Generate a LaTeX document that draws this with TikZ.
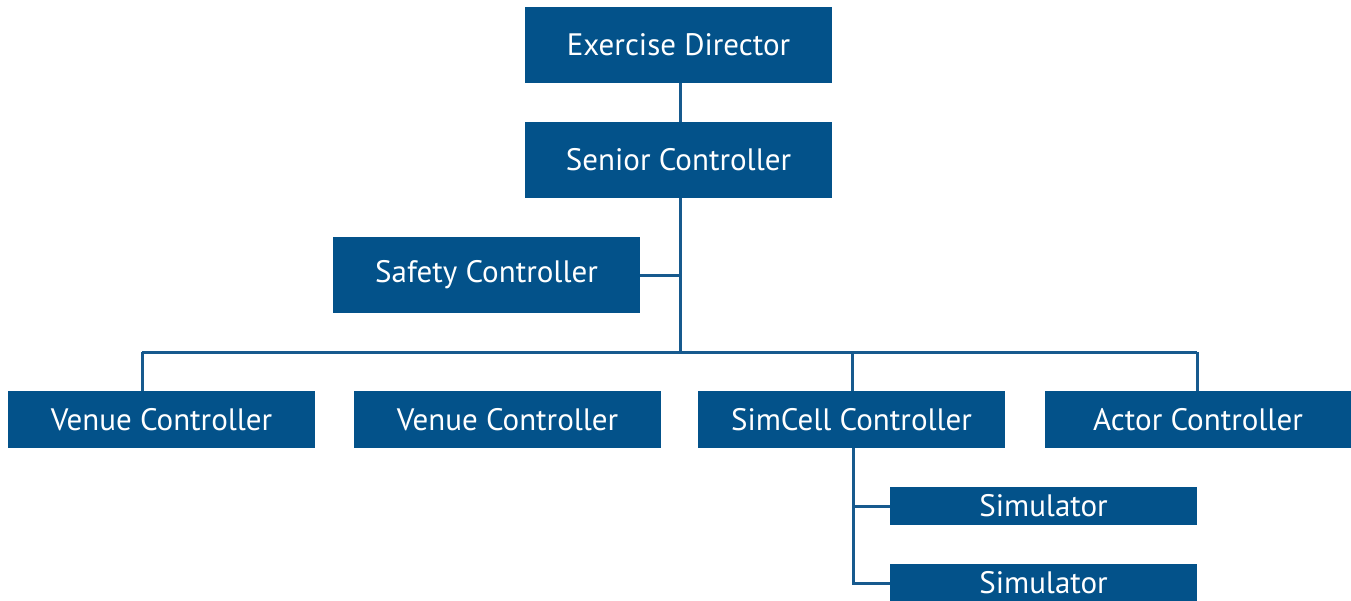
\documentclass[tikz,border=0pt]{standalone}
\usepackage{fontspec}
\setmainfont{PT Sans}
\definecolor{boxblue}{HTML}{03528A}
\definecolor{lineblue}{HTML}{175A8E}
\tikzset{
  orgbox/.style={fill=boxblue, text=white, inner sep=0pt, outer sep=0pt,
    minimum width=307pt, font=\fontsize{31}{36}\selectfont},
  tall/.style={orgbox, minimum height=76pt},
  mid/.style={orgbox, minimum height=57pt},
  small/.style={orgbox, minimum height=38pt},
  link/.style={draw=lineblue, line width=3pt}
}
\begin{document}
\begin{tikzpicture}[x=1pt,y=-1pt]
\useasboundingbox (0,0) rectangle (1351,600);
\node[tall] (ed) at (678.5,45) {Exercise Director};
\node[tall] (sc) at (678.5,160) {Senior Controller};
\node[tall] (safe) at (486.5,275) {Safety Controller};
\node[mid] (v1) at (161.5,419.5) {Venue Controller};
\node[mid] (v2) at (507.5,419.5) {Venue Controller};
\node[mid] (simc) at (851.5,419.5) {SimCell Controller};
\node[mid, minimum width=306pt] (act) at (1198,419.5) {Actor Controller};
\node[small] (s1) at (1043.5,506) {Simulator};
\node[small] (s2) at (1043.5,583) {Simulator};
\coordinate (bus) at (680,352);
\coordinate (busl) at (142,352);
\coordinate (busr) at (1197,352);
\coordinate (simbot) at (853,583);
\draw[link] ([xshift=1.5pt]ed.south) -- ([xshift=1.5pt]sc.north);
\draw[link] ([xshift=1.5pt]sc.south) -- (bus);
\draw[link] (safe.east) -- (safe.east -| bus);
\draw[link] (busl) -- (busr);
\draw[link] (busl) -- (busl |- v1.north);
\draw[link] (v2.north -| 488,0) -- (v2.north -| 488,0 |- bus);
\draw[link] (bus -| 852,0) -- (simc.north -| 852,0);
\draw[link] (busr) -- (busr |- act.north);
\draw[link] ([xshift=1.5pt]simc.south) -- (simbot) -- (s2.west);
\draw[link] (s1.west -| simbot) -- (s1.west);
\end{tikzpicture}
\end{document}
